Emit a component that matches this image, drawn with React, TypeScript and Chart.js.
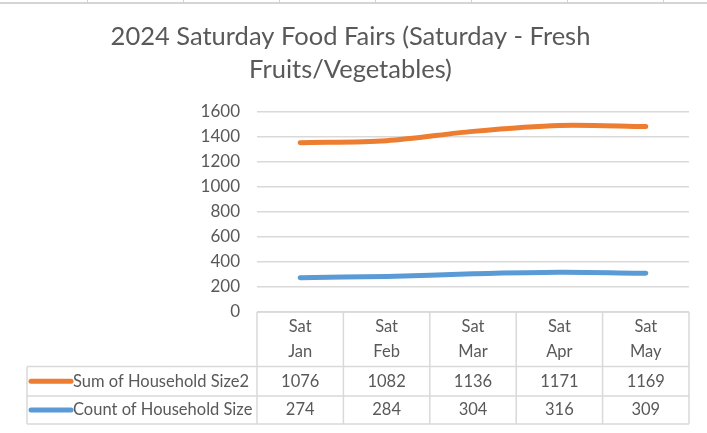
import React, { useEffect, useRef } from "react";
import { Chart, registerables } from "chart.js";

Chart.register(...registerables);

// ---- data ----
const weekdayLabels = ["Sat", "Sat", "Sat", "Sat", "Sat"];
const monthLabels = ["Jan", "Feb", "Mar", "Apr", "May"];
const sumHouseholdSize2 = [1076, 1082, 1136, 1171, 1169];
const countHouseholdSize = [274, 284, 304, 316, 309];
const seriesNames = ["Sum of Household Size2", "Count of Household Size"];
const titleLines = ["2024 Saturday Food Fairs (Saturday - Fresh", "Fruits/Vegetables)"];
const yMin = 0;
const yMax = 1600;
const yStep = 200;

const ORANGE = "#ED7D31";
const BLUE = "#5B9BD5";
const TEXT = "#595959";
const GRID = "#d9d9d9";
const FONT = "Lato, 'Open Sans', sans-serif";

const W = 707;
const H = 433;
const PAD_LEFT = 12;

const tablePlugin = {
  id: "dataTable",
  afterDraw(chart: any) {
    const ctx = chart.ctx as CanvasRenderingContext2D;
    const area = chart.chartArea;
    const xs = chart.scales.x;
    const n = monthLabels.length;
    const colW = (area.right - area.left) / n;
    const top = area.bottom;
    const headerBottom = top + 54.5;
    const row1Bottom = headerBottom + 29.5;
    const row2Bottom = row1Bottom + 28;
    const tableLeft = 27;

    ctx.save();
    // excel sheet strip at very top
    ctx.strokeStyle = "#d4d4d4";
    ctx.lineWidth = 2;
    ctx.beginPath();
    ctx.moveTo(0, 3);
    ctx.lineTo(W, 3);
    ctx.stroke();
    ctx.lineWidth = 1;
    [87.5, 183.5, 279.5, 375.5, 471.5, 567.5, 663.5].forEach((x) => {
      ctx.beginPath();
      ctx.moveTo(x, 0);
      ctx.lineTo(x, 3);
      ctx.stroke();
    });

    // table grid
    ctx.strokeStyle = GRID;
    ctx.lineWidth = 1.5;
    ctx.beginPath();
    ctx.moveTo(area.left, top);
    ctx.lineTo(area.right, top);
    ctx.moveTo(tableLeft, headerBottom);
    ctx.lineTo(area.right, headerBottom);
    ctx.moveTo(tableLeft, row1Bottom);
    ctx.lineTo(area.right, row1Bottom);
    ctx.moveTo(tableLeft, row2Bottom);
    ctx.lineTo(area.right, row2Bottom);
    for (let i = 0; i <= n; i++) {
      const x = area.left + i * colW;
      ctx.moveTo(x, top);
      ctx.lineTo(x, row2Bottom);
    }
    ctx.moveTo(tableLeft, headerBottom);
    ctx.lineTo(tableLeft, row2Bottom);
    ctx.stroke();

    // header and values
    ctx.fillStyle = TEXT;
    ctx.font = `16.5px ${FONT}`;
    ctx.textAlign = "center";
    ctx.textBaseline = "middle";
    const r1 = (headerBottom + row1Bottom) / 2;
    const r2 = (row1Bottom + row2Bottom) / 2;
    for (let i = 0; i < n; i++) {
      const cx = xs.getPixelForValue(i);
      ctx.fillText(weekdayLabels[i], cx, top + 15);
      ctx.fillText(monthLabels[i], cx, top + 40);
      ctx.fillText(String(sumHouseholdSize2[i]), cx, r1);
      ctx.fillText(String(countHouseholdSize[i]), cx, r2);
    }

    // legend keys
    ctx.lineCap = "round";
    ctx.lineWidth = 5;
    ctx.strokeStyle = ORANGE;
    ctx.beginPath();
    ctx.moveTo(31, r1);
    ctx.lineTo(71, r1);
    ctx.stroke();
    ctx.strokeStyle = BLUE;
    ctx.beginPath();
    ctx.moveTo(31, r2);
    ctx.lineTo(71, r2);
    ctx.stroke();
    ctx.textAlign = "left";
    ctx.fillText(seriesNames[0], 73, r1);
    ctx.fillText(seriesNames[1], 73, r2);
    ctx.restore();
  },
};

export default function App() {
  const ref = useRef<HTMLCanvasElement | null>(null);

  useEffect(() => {
    if (!ref.current) return;
    const chart = new Chart(ref.current, {
      type: "line",
      data: {
        labels: monthLabels.map((m, i) => [weekdayLabels[i], m]),
        datasets: [
          {
            label: seriesNames[1],
            data: countHouseholdSize,
            borderColor: BLUE,
            backgroundColor: BLUE,
            borderWidth: 5,
            pointRadius: 0,
            tension: 0.3,
            borderCapStyle: "round",
            fill: false,
          },
          {
            label: seriesNames[0],
            data: sumHouseholdSize2,
            borderColor: ORANGE,
            backgroundColor: ORANGE,
            borderWidth: 5,
            pointRadius: 0,
            tension: 0.3,
            borderCapStyle: "round",
            fill: false,
          },
        ],
      },
      plugins: [tablePlugin],
      options: {
        responsive: false,
        animation: false,
        layout: { padding: { left: PAD_LEFT, right: W - 689, top: 0, bottom: H - 312 } },
        plugins: {
          legend: { display: false },
          tooltip: { enabled: false },
          title: {
            display: true,
            text: titleLines,
            color: TEXT,
            font: { family: FONT, size: 25.5, weight: "normal", lineHeight: 1.3 },
            padding: { top: 20, bottom: 25 },
          },
        },
        scales: {
          x: { display: false, offset: true },
          y: {
            stacked: true,
            min: yMin,
            max: yMax,
            border: { display: false },
            grid: { color: GRID, lineWidth: 1.5, drawTicks: false },
            ticks: {
              stepSize: yStep,
              padding: 17,
              color: TEXT,
              font: { family: FONT, size: 17 },
              callback: (v: any) => String(v),
            },
            afterFit: (s: any) => {
              s.width = 257 - PAD_LEFT;
            },
          },
        },
      },
    });
    return () => chart.destroy();
  }, []);

  return (
    <div style={{ position: "fixed", left: 0, top: 0, width: W, height: H, background: "#fff" }}>
      <canvas ref={ref} width={W} height={H} style={{ width: W, height: H, display: "block" }} />
    </div>
  );
}
